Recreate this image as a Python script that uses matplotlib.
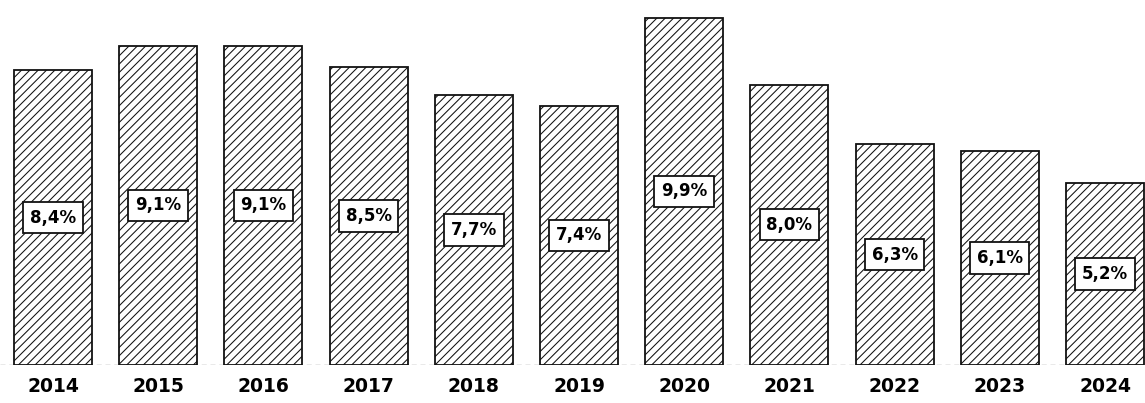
import matplotlib.pyplot as plt

years = ["2014", "2015", "2016", "2017", "2018", "2019", "2020", "2021", "2022", "2023", "2024"]
values = [8.4, 9.1, 9.1, 8.5, 7.7, 7.4, 9.9, 8.0, 6.3, 6.1, 5.2]
labels = ["8,4%", "9,1%", "9,1%", "8,5%", "7,7%", "7,4%", "9,9%", "8,0%", "6,3%", "6,1%", "5,2%"]

plt.rcParams["font.family"] = ["DejaVu Sans"]
plt.rcParams["hatch.linewidth"] = 0.75
plt.rcParams["hatch.color"] = "#333333"

fig = plt.figure(figsize=(11.45, 4.03), dpi=100)
ax = fig.add_axes([0, 38 / 403, 1, 365 / 403])

x = list(range(len(years)))
ax.bar(x, values, width=0.74, color="white", edgecolor="#111111",
       linewidth=1.3, hatch="////", zorder=2)

# value boxes in the middle of each bar
for i, v in enumerate(values):
    ax.text(i, v / 2, labels[i], ha="center", va="center", fontsize=12,
            fontweight="bold", zorder=3,
            bbox=dict(boxstyle="square,pad=0.4", facecolor="white",
                      edgecolor="#111111", linewidth=1.3))

# dashed base line
ax.axhline(0, color="#555555", linewidth=0.9, linestyle=(0, (4, 3)), zorder=1)

ax.set_xlim(-0.504, 10.38)
ax.set_ylim(0, 10.41)
ax.set_yticks([])
ax.set_xticks(x)
ax.set_xticklabels(years, fontsize=13.5, fontweight="bold")
ax.tick_params(axis="x", length=0, pad=9)
for s in ax.spines.values():
    s.set_visible(False)

fig.savefig("out.png", dpi=100)
